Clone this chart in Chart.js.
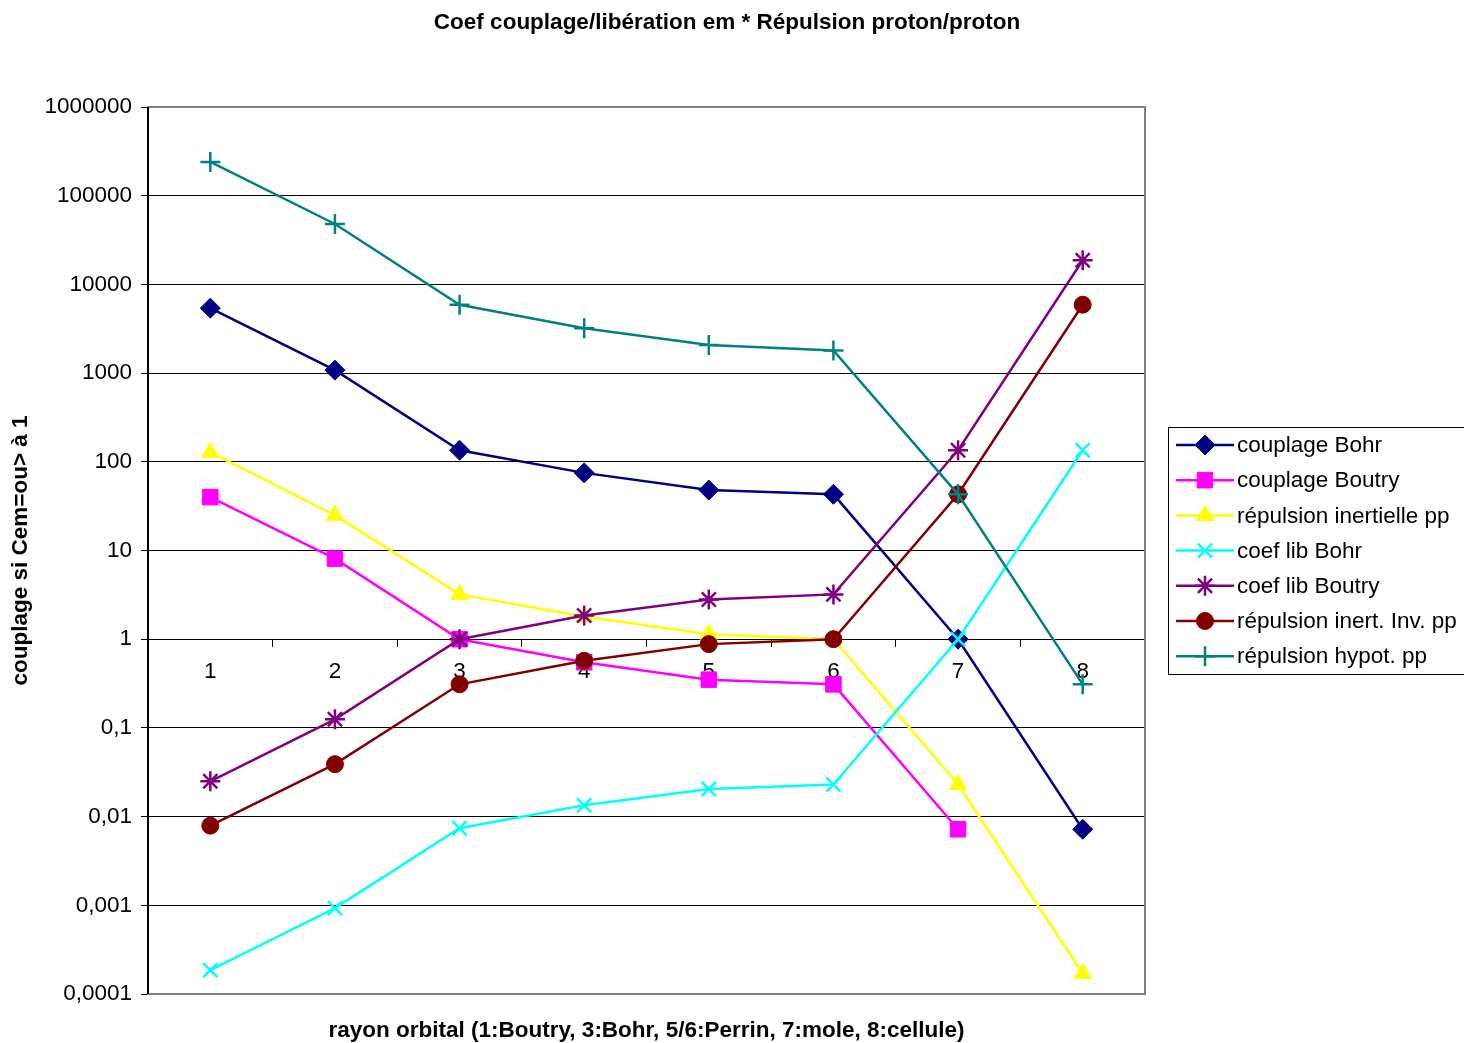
<!DOCTYPE html>
<html>
<head>
<meta charset="utf-8">
<title>Coef couplage/libération em * Répulsion proton/proton</title>
<script src="https://cdn.jsdelivr.net/npm/chart.js@4.4.1/dist/chart.umd.min.js"></script>
<style>
  html, body { margin: 0; padding: 0; background: #fff; }
  #wrap { width: 1464px; height: 1043px; position: relative; }
</style>
</head>
<body>
<div id="wrap"><canvas id="chart"></canvas></div>
<script>
const categories = ["1", "2", "3", "4", "5", "6", "7", "8"];

const couplageBohr = [5400, 1080, 135, 75, 48, 43, 1, 0.0072];
const couplageBoutry = [40, 8.1, 1, 0.55, 0.35, 0.31, 0.0072, null];
const repulsionInertielle = [128, 25, 3.2, 1.8, 1.14, 1, 0.023, 0.00017];
const coefLibBohr = [0.000186, 0.00093, 0.0074, 0.0134, 0.0205, 0.023, 1, 135];
const coefLibBoutry = [0.025, 0.125, 1, 1.85, 2.8, 3.2, 135, 18700];
const repulsionInertInv = [0.0079, 0.039, 0.31, 0.57, 0.88, 1, 43, 5900];
const repulsionHypot = [240000, 48000, 5900, 3200, 2070, 1800, 43, 0.31];

const yTicks = [0.0001, 0.001, 0.01, 0.1, 1, 10, 100, 1000, 10000, 100000, 1000000];

const FONT = "'Liberation Sans', Arial, sans-serif";
const FS = 22.5;

function series(label, data, color, style, radius, filled, order) {
  return {
    label: label,
    data: data,
    order: order, // later series drawn on top, like the original
    borderColor: color,
    backgroundColor: color,
    pointBackgroundColor: filled ? color : "transparent",
    pointBorderColor: color,
    pointStyle: style,
    pointRadius: radius,
    pointHoverRadius: radius,
    pointBorderWidth: filled ? 1 : 2.5,
    borderWidth: 2.5,
    tension: 0,
    fill: false
  };
}

const datasets = [
  series("couplage Bohr", couplageBohr, "#000080", "rectRot", 10, true, 7),
  series("couplage Boutry", couplageBoutry, "#FF00FF", "rect", 11, true, 6),
  series("répulsion inertielle pp", repulsionInertielle, "#FFFF00", "triangle", 10, true, 5),
  series("coef lib Bohr", coefLibBohr, "#00FFFF", "crossRot", 10, false, 4),
  series("coef lib Boutry", coefLibBoutry, "#800080", "star", 10, false, 3),
  series("répulsion inert. Inv. pp", repulsionInertInv, "#800000", "circle", 8.5, true, 2),
  series("répulsion hypot. pp", repulsionHypot, "#008080", "cross", 10, false, 1)
];

const decorations = {
  id: "decorations",
  beforeDatasetsDraw(chart) {
    const ctx = chart.ctx;
    const a = chart.chartArea;
    ctx.save();
    ctx.strokeStyle = "#808080";
    ctx.lineWidth = 2;
    ctx.strokeRect(a.left, a.top, a.right - a.left, a.bottom - a.top);
    ctx.strokeStyle = "#000";
    ctx.beginPath();
    ctx.moveTo(a.left, a.top);
    ctx.lineTo(a.left, a.bottom);
    ctx.stroke();
    ctx.restore();
  },
  afterDraw(chart) {
    const ctx = chart.ctx;
    const a = chart.chartArea;
    ctx.save();
    ctx.fillStyle = "#000";
    ctx.textAlign = "center";
    ctx.textBaseline = "middle";
    ctx.font = "bold " + FS + "px " + FONT;
    ctx.fillText("Coef couplage/libération em * Répulsion proton/proton", 727, 23);
    ctx.fillText("rayon orbital (1:Boutry, 3:Bohr, 5/6:Perrin, 7:mole, 8:cellule)", (a.left + a.right) / 2, 1031);

    // legend (in dataset order)
    const bx = 1168, by = 427, bw = 310, bh = 247;
    ctx.fillStyle = "#fff";
    ctx.fillRect(bx, by, bw, bh);
    ctx.strokeStyle = "#000";
    ctx.lineWidth = 1;
    ctx.strokeRect(bx + 0.5, by + 0.5, bw, bh);
    ctx.font = FS + "px " + FONT;
    ctx.textAlign = "left";
    chart.data.datasets.forEach((ds, i) => {
      const y = 445 + i * 35.2;
      ctx.strokeStyle = ds.borderColor;
      ctx.lineWidth = 2.5;
      ctx.beginPath();
      ctx.moveTo(1176, y);
      ctx.lineTo(1234, y);
      ctx.stroke();
      ctx.fillStyle = ds.pointBackgroundColor;
      ctx.strokeStyle = ds.pointBorderColor;
      ctx.lineWidth = ds.pointBorderWidth;
      Chart.helpers.drawPoint(ctx, {
        pointStyle: ds.pointStyle,
        radius: ds.pointRadius,
        rotation: 0,
        borderWidth: ds.pointBorderWidth
      }, 1205, y);
      ctx.fillStyle = "#000";
      ctx.fillText(ds.label, 1237, y + 1);
    });
    ctx.restore();
  }
};

new Chart(document.getElementById("chart"), {
  type: "line",
  data: { labels: categories, datasets: datasets },
  plugins: [decorations],
  options: {
    responsive: true,
    maintainAspectRatio: false,
    animation: false,
    layout: { padding: { top: 107, right: 319, bottom: 49, left: 0 } },
    plugins: {
      legend: { display: false },
      title: { display: false },
      tooltip: { enabled: false }
    },
    scales: {
      x: {
        type: "category",
        position: { y: 1 },
        offset: true,
        grid: {
          drawOnChartArea: false,
          drawTicks: true,
          offset: true,
          tickLength: 7,
          color: "#000",
          lineWidth: 1
        },
        border: { display: true, color: "#000", width: 1 },
        ticks: {
          color: "#000",
          font: { family: FONT, size: FS },
          padding: 12,
          maxRotation: 0
        }
      },
      y: {
        type: "logarithmic",
        min: 0.0001,
        max: 1000000,
        afterFit(scale) { scale.width = 148; },
        afterBuildTicks(scale) {
          scale.ticks = yTicks.map(v => ({ value: v }));
        },
        grid: {
          color: "#000",
          lineWidth: 1,
          tickLength: 7
        },
        border: { display: true, color: "#000", width: 2 },
        ticks: {
          color: "#000",
          font: { family: FONT, size: FS },
          padding: 9,
          autoSkip: false,
          callback: function (value) {
            return String(value).replace(".", ",");
          }
        },
        title: {
          display: true,
          text: "couplage si Cem=ou> à 1",
          color: "#000",
          font: { family: FONT, size: FS, weight: "bold" },
          padding: { top: 7, bottom: 0 }
        }
      }
    }
  }
});
</script>
</body>
</html>
